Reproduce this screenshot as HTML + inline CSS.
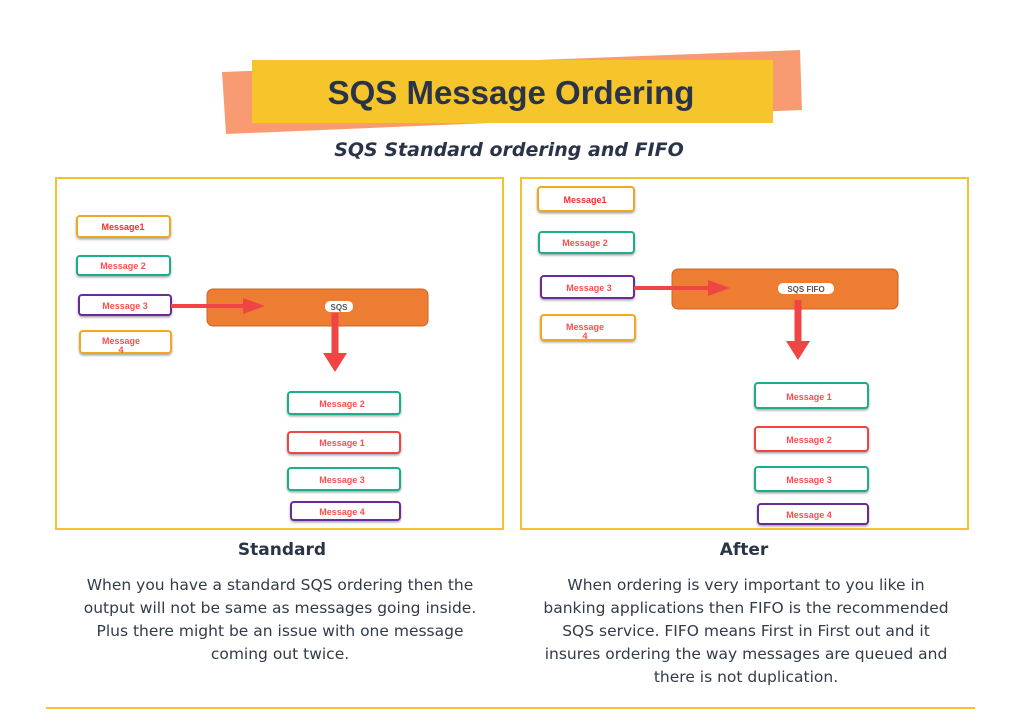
<!DOCTYPE html>
<html><head><meta charset="utf-8"><style>
body{margin:0;width:1024px;height:723px;background:#fff;overflow:hidden;font-family:"DejaVu Sans","Liberation Sans",sans-serif}
</style></head><body>
<svg width="1024" height="723" xmlns="http://www.w3.org/2000/svg" style="position:absolute;left:0;top:0">
<defs>
<filter id="sh" x="-20%" y="-20%" width="140%" height="160%"><feDropShadow dx="0" dy="1.5" stdDeviation="1" flood-color="#000" flood-opacity="0.35"/></filter>
</defs>
<polygon points="222,72 800,50 802,110 226,134" fill="#f89b72"/>
<rect x="252" y="60" width="521" height="63" fill="#f6c52b"/>
<text x="511" y="104" text-anchor="middle" font-family="Liberation Sans,sans-serif" font-weight="bold" font-size="33" fill="#2a3448">SQS Message Ordering</text>
<text x="509" y="156" text-anchor="middle" font-family="DejaVu Sans,sans-serif" font-style="italic" font-weight="bold" font-size="19" fill="#2a3448">SQS Standard ordering and FIFO</text>
<rect x="56" y="178" width="447" height="351" fill="none" stroke="#f5c231" stroke-width="2"/>
<rect x="521" y="178" width="447" height="351" fill="none" stroke="#f5c231" stroke-width="2"/>
<line x1="46" y1="708" x2="975" y2="708" stroke="#f5c231" stroke-width="2"/>
<g font-family="Liberation Sans,sans-serif" font-size="9" font-weight="bold" text-anchor="middle" fill="#ff4d4d">
<rect x="77" y="216" width="93" height="21" rx="3" fill="#fff" stroke="#f0a821" stroke-width="2" filter="url(#sh)"/>
<text x="123" y="230" fill="#ff2a2a">Message1</text>
<rect x="77" y="256" width="93" height="19" rx="3" fill="#fff" stroke="#1fae8c" stroke-width="2" filter="url(#sh)"/>
<text x="123" y="269">Message 2</text>
<rect x="79" y="295" width="92" height="20" rx="3" fill="#fff" stroke="#6b2b9a" stroke-width="2" filter="url(#sh)"/>
<text x="125" y="309">Message 3</text>
<rect x="80" y="331" width="91" height="22" rx="3" fill="#fff" stroke="#f0a821" stroke-width="2" filter="url(#sh)"/>
<text x="121" y="344">Message</text><text x="121" y="353">4</text>
<rect x="207" y="289" width="221" height="37" rx="6" fill="#ec7d32" stroke="#c9652a" stroke-width="1"/>
<rect x="325" y="301" width="28" height="11" rx="5" fill="#fff"/>
<text x="339" y="310" fill="#555" font-size="8">SQS</text>
<line x1="171" y1="306" x2="245" y2="306" stroke="#f04545" stroke-width="4"/>
<polygon points="243,298 265,306 243,314" fill="#f04545"/>
<line x1="335" y1="313" x2="335" y2="355" stroke="#f04545" stroke-width="7"/>
<polygon points="323,353 347,353 335,372" fill="#f04545"/>
<rect x="288" y="392" width="112" height="22" rx="3" fill="#fff" stroke="#1fae8c" stroke-width="2" filter="url(#sh)"/>
<text x="342" y="407">Message 2</text>
<rect x="288" y="432" width="112" height="21" rx="3" fill="#fff" stroke="#f04545" stroke-width="2" filter="url(#sh)"/>
<text x="342" y="446">Message 1</text>
<rect x="288" y="468" width="112" height="22" rx="3" fill="#fff" stroke="#1fae8c" stroke-width="2" filter="url(#sh)"/>
<text x="342" y="483">Message 3</text>
<rect x="291" y="502" width="109" height="18" rx="3" fill="#fff" stroke="#6b2b9a" stroke-width="2" filter="url(#sh)"/>
<text x="342" y="515">Message 4</text>
<rect x="538" y="187" width="96" height="24" rx="3" fill="#fff" stroke="#f0a821" stroke-width="2" filter="url(#sh)"/>
<text x="585" y="203" fill="#ff2a2a">Message1</text>
<rect x="539" y="232" width="95" height="21" rx="3" fill="#fff" stroke="#1fae8c" stroke-width="2" filter="url(#sh)"/>
<text x="585" y="246">Message 2</text>
<rect x="541" y="276" width="93" height="22" rx="3" fill="#fff" stroke="#6b2b9a" stroke-width="2" filter="url(#sh)"/>
<text x="589" y="291">Message 3</text>
<rect x="541" y="315" width="94" height="25" rx="3" fill="#fff" stroke="#f0a821" stroke-width="2" filter="url(#sh)"/>
<text x="585" y="330">Message</text><text x="585" y="339">4</text>
<rect x="672" y="269" width="226" height="40" rx="6" fill="#ec7d32" stroke="#c9652a" stroke-width="1"/>
<rect x="778" y="283" width="56" height="11" rx="5" fill="#fff"/>
<text x="806" y="292" fill="#555" font-size="8">SQS FIFO</text>
<line x1="634" y1="288" x2="710" y2="288" stroke="#f04545" stroke-width="4"/>
<polygon points="708,280 730,288 708,296" fill="#f04545"/>
<line x1="798" y1="300" x2="798" y2="343" stroke="#f04545" stroke-width="7"/>
<polygon points="786,341 810,341 798,360" fill="#f04545"/>
<rect x="755" y="383" width="113" height="25" rx="3" fill="#fff" stroke="#1fae8c" stroke-width="2" filter="url(#sh)"/>
<text x="809" y="400">Message 1</text>
<rect x="755" y="427" width="113" height="24" rx="3" fill="#fff" stroke="#f04545" stroke-width="2" filter="url(#sh)"/>
<text x="809" y="443">Message 2</text>
<rect x="755" y="467" width="113" height="24" rx="3" fill="#fff" stroke="#1fae8c" stroke-width="2" filter="url(#sh)"/>
<text x="809" y="483">Message 3</text>
<rect x="758" y="504" width="110" height="20" rx="3" fill="#fff" stroke="#6b2b9a" stroke-width="2" filter="url(#sh)"/>
<text x="809" y="518">Message 4</text>
</g>
<g font-family="DejaVu Sans,sans-serif" text-anchor="middle" fill="#2a3448">
<text x="282" y="555" font-weight="bold" font-size="17">Standard</text>
<text x="744" y="555" font-weight="bold" font-size="17">After</text>
<g font-size="15.5" fill="#333a48">
<text x="280" y="590">When you have a standard SQS ordering then the</text>
<text x="280" y="613">output will not be same as messages going inside.</text>
<text x="280" y="636">Plus there might be an issue with one message</text>
<text x="280" y="659">coming out twice.</text>
<text x="746" y="590">When ordering is very important to you like in</text>
<text x="746" y="613">banking applications then FIFO is the recommended</text>
<text x="746" y="636">SQS service. FIFO means First in First out and it</text>
<text x="746" y="659">insures ordering the way messages are queued and</text>
<text x="746" y="682">there is not duplication.</text>
</g></g>
</svg>
</body></html>
